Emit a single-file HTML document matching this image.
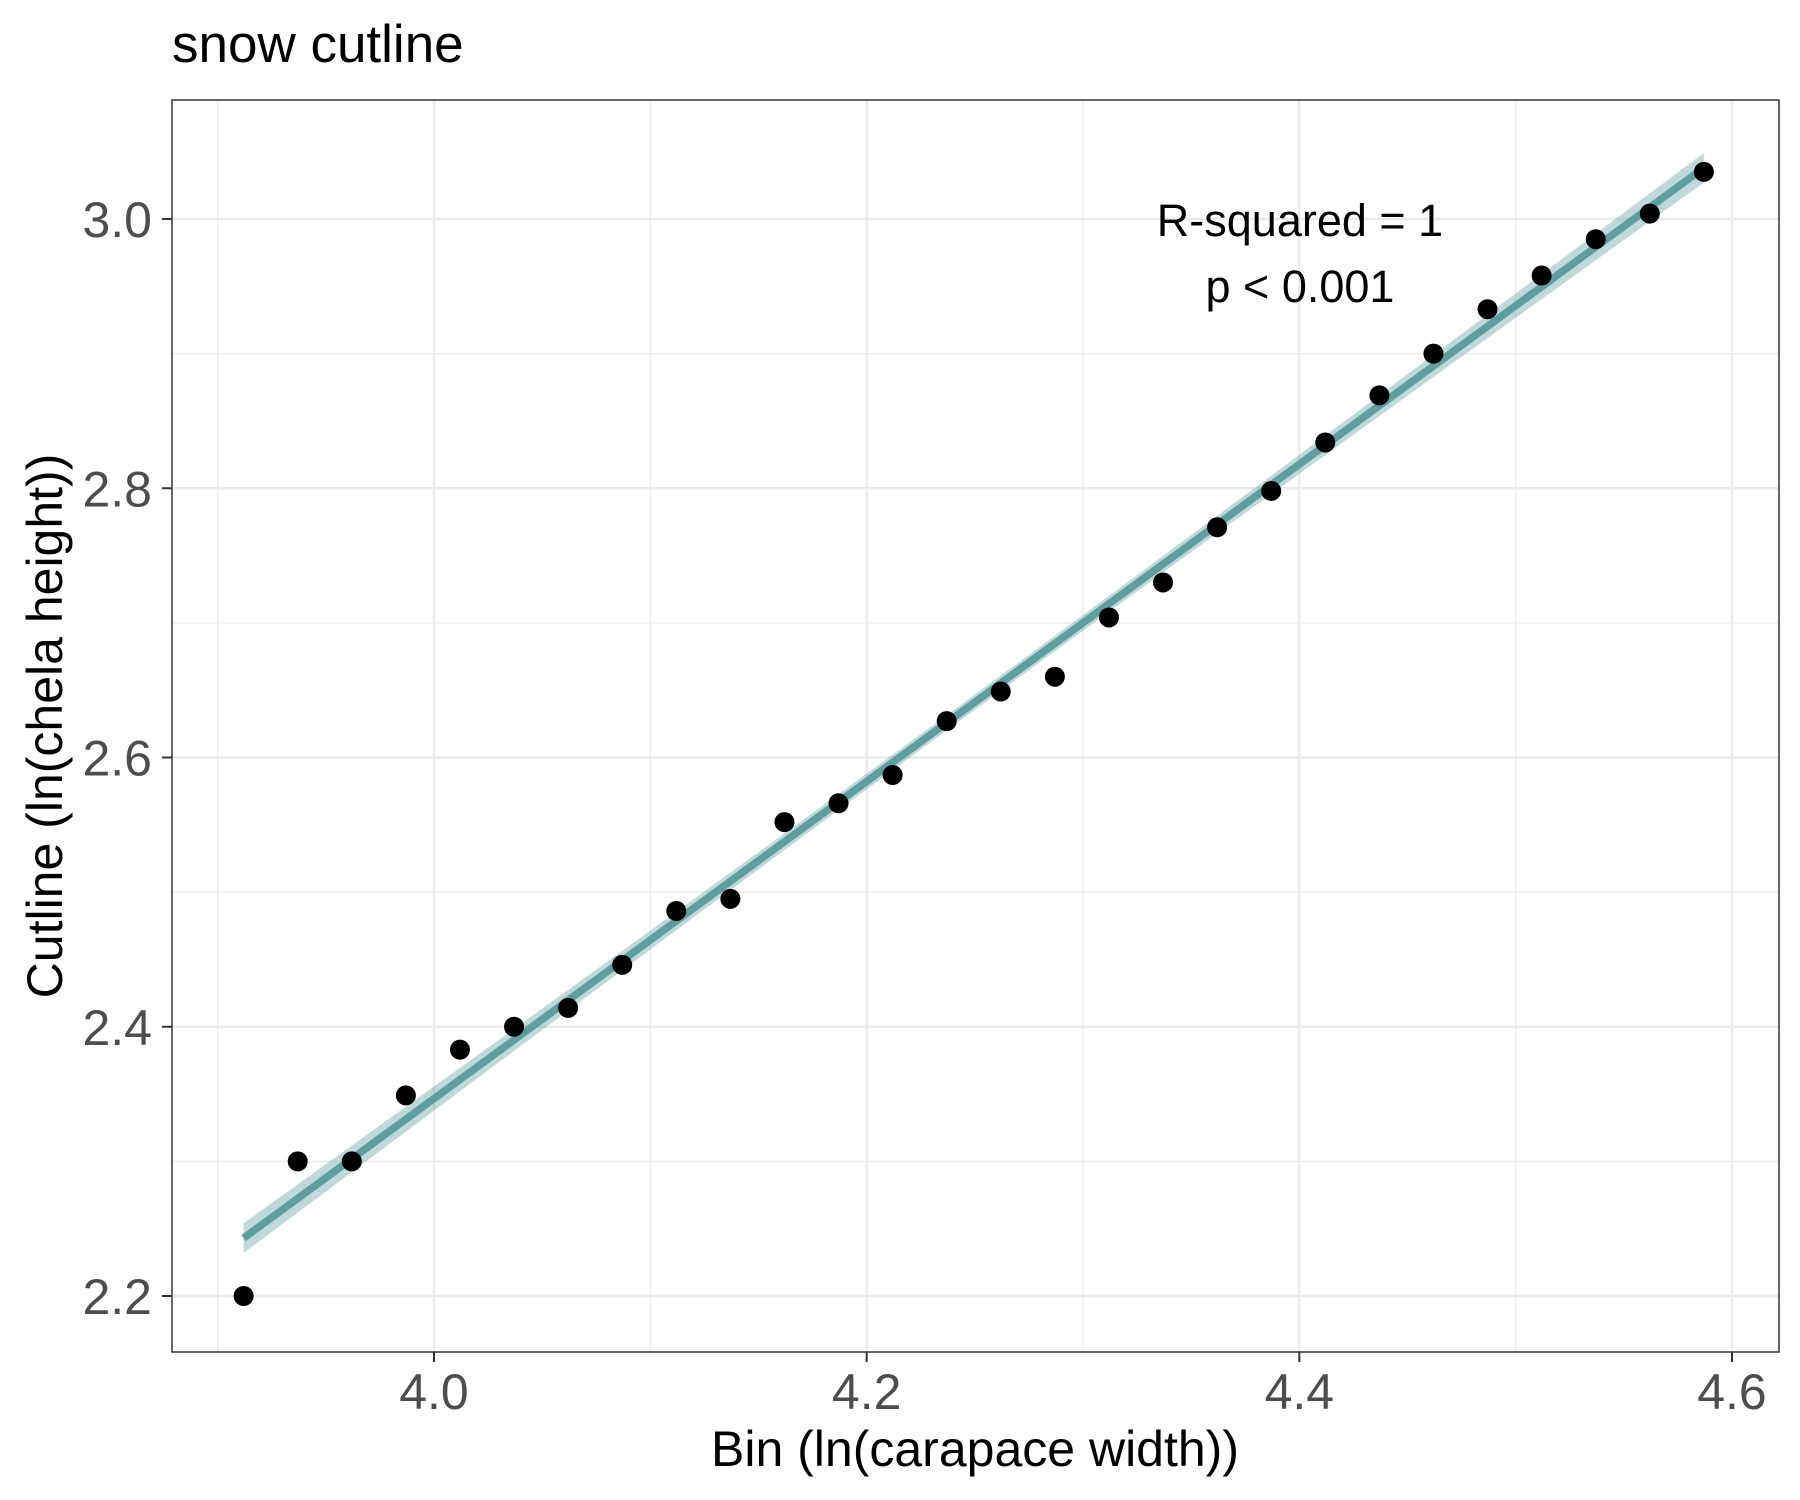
<!DOCTYPE html>
<html><head><meta charset="utf-8"><style>
html,body{margin:0;padding:0;background:#fff;}
svg{display:block;font-family:"Liberation Sans",Arial,sans-serif;}
</style></head><body>
<svg id="chart" width="1800" height="1500" viewBox="0 0 1800 1500">
<rect width="1800" height="1500" fill="#fff"/>
<text x="172" y="62" font-size="53" fill="#000">snow cutline</text>
<g id="grid"></g>
<g id="band"></g>
<g id="points"></g>
<rect x="172" y="100" width="1607" height="1252" fill="none" stroke="#333" stroke-width="1.5"/>
<g id="axes"></g>
<text x="1300" y="236" font-size="45" text-anchor="middle">R-squared = 1</text>
<text x="1300" y="302" font-size="45" text-anchor="middle">p &lt; 0.001</text>
<text x="975" y="1466" font-size="50" text-anchor="middle">Bin (ln(carapace width))</text>
<text transform="translate(62,726) rotate(-90)" font-size="50" text-anchor="middle">Cutline (ln(chela height))</text>
</svg>
<script>
const xValues=[3.912,3.937,3.962,3.987,4.012,4.037,4.062,4.087,4.112,4.137,4.162,4.187,4.212,4.237,4.262,4.287,4.312,4.337,4.362,4.387,4.412,4.437,4.462,4.487,4.512,4.537,4.562,4.587];
const yValues=[2.200,2.300,2.300,2.349,2.383,2.400,2.414,2.446,2.486,2.495,2.552,2.566,2.587,2.627,2.649,2.660,2.704,2.730,2.771,2.798,2.834,2.869,2.900,2.933,2.958,2.985,3.004,3.035];
const xTicks=[4.0,4.2,4.4,4.6];
const xMinor=[3.9,4.1,4.3,4.5];
const yTicks=[2.2,2.4,2.6,2.8,3.0];
const yMinor=[2.3,2.5,2.7,2.9];
const NS="http://www.w3.org/2000/svg";
const L=172,R=1779,T=100,B=1352;
function sx(v){return 434+(v-4.0)*(1732-434)/0.6;}
function sy(v){return 1296-(v-2.2)*(1296-219)/0.8;}
function mk(tag,attrs,parent){const e=document.createElementNS(NS,tag);for(const k in attrs)e.setAttribute(k,attrs[k]);parent.appendChild(e);return e;}
const grid=document.getElementById('grid'),axes=document.getElementById('axes');
xMinor.forEach(v=>{const e=mk('line',{x1:sx(v),x2:sx(v),y1:T,y2:B,stroke:'#ebebeb','stroke-width':1.2},grid);

});
yMinor.forEach(v=>{const e=mk('line',{x1:L,x2:R,y1:sy(v),y2:sy(v),stroke:'#ebebeb','stroke-width':1.2},grid);

});
xTicks.forEach(v=>{const e=mk('line',{x1:sx(v),x2:sx(v),y1:T,y2:B,stroke:'#ebebeb','stroke-width':2.5},grid);


const t=mk('line',{x1:sx(v),x2:sx(v),y1:B,y2:B+10,stroke:'#333','stroke-width':2},axes);


const l=mk('text',{x:sx(v),y:B+57,'font-size':50,fill:'#4d4d4d','text-anchor':'middle'},axes);l.textContent=v.toFixed(1);

});
yTicks.forEach(v=>{const e=mk('line',{x1:L,x2:R,y1:sy(v),y2:sy(v),stroke:'#ebebeb','stroke-width':2.5},grid);


const t=mk('line',{x1:L-10,x2:L,y1:sy(v),y2:sy(v),stroke:'#333','stroke-width':2},axes);


const l=mk('text',{x:L-20,y:sy(v)+18,'font-size':50,fill:'#4d4d4d','text-anchor':'end'},axes);l.textContent=v.toFixed(1);

});
const n=xValues.length;const mx=xValues.reduce((a,b)=>a+b)/n,my=yValues.reduce((a,b)=>a+b)/n;
let sxx=0,sxy=0;for(let i=0;i<n;i++){sxx+=(xValues[i]-mx)**2;sxy+=(xValues[i]-mx)*(yValues[i]-my);}
const b1=sxy/sxx,b0=my-b1*mx;let sse=0;for(let i=0;i<n;i++)sse+=(yValues[i]-b0-b1*xValues[i])**2;
const s=Math.sqrt(sse/(n-2)),tq=2.056;
const x0=xValues[0],x1=xValues[n-1];const up=[],lo=[];
for(let k=0;k<=40;k++){const x=x0+(x1-x0)*k/40;const f=b0+b1*x;const se=s*Math.sqrt(1/n+(x-mx)**2/sxx);up.push(sx(x)+','+sy(f+tq*se));lo.unshift(sx(x)+','+sy(f-tq*se));}
const band=document.getElementById('band');
const poly=mk('polygon',{points:up.concat(lo).join(' '),fill:'#5f9ea0','fill-opacity':0.4},band);


const fl=mk('line',{x1:sx(x0),y1:sy(b0+b1*x0),x2:sx(x1),y2:sy(b0+b1*x1),stroke:'#5f9ea0','stroke-width':7.5},band);


const pts=document.getElementById('points');
for(let i=0;i<n;i++){const c=mk('circle',{cx:sx(xValues[i]),cy:sy(yValues[i]),r:10,fill:'#000'},pts);

}
</script>
</body></html>
